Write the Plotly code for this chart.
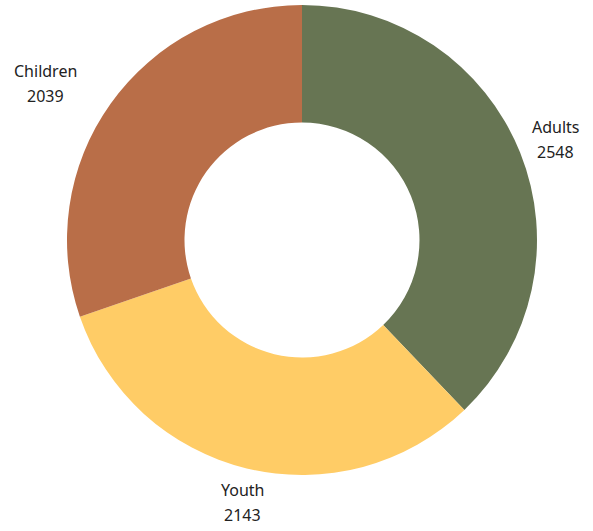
import math
import plotly.graph_objects as go

labels = ["Adults", "Youth", "Children"]
values = [2548, 2143, 2039]
colors = ["#677553", "#FFCC66", "#B96E48"]

W, H = 593, 531
ML, MR, MT, MB = 11, 0, 5, 56
CX, CY, R = 302, 240, 235
LABEL_RX0, LABEL_RX_PER_CHAR, LABEL_RY = 149, 20.7, 270
LINE_GAP = 12.5

fig = go.Figure(go.Pie(
    labels=labels, values=values, hole=0.5, sort=False, direction="clockwise",
    rotation=0, marker=dict(colors=colors, line=dict(width=0)),
    textinfo="none", hoverinfo="label+value", showlegend=False,
    domain=dict(x=[0, 1], y=[0, 1]),
))

total = sum(values)
cum = 0
pw, ph = W - ML - MR, H - MT - MB
font = dict(size=16, color="#222222", family="Noto Sans")
for lab, v in zip(labels, values):
    mid = (cum + v / 2) / total * 2 * math.pi
    cum += v
    s, c = math.sin(mid), math.cos(mid)
    px = CX + (LABEL_RX0 + LABEL_RX_PER_CHAR * len(lab)) * s
    py = CY - LABEL_RY * c
    for txt, dy in ((lab, -LINE_GAP), (str(v), LINE_GAP)):
        fig.add_annotation(
            x=(px - ML) / pw, y=(H - MB - (py + dy)) / ph, xref="paper", yref="paper",
            text=txt, showarrow=False, xanchor="center", yanchor="middle",
            align="center", font=font,
        )

fig.update_layout(
    width=W, height=H, margin=dict(l=ML, r=MR, t=MT, b=MB),
    paper_bgcolor="white", plot_bgcolor="white",
)
fig.write_html("out.html", config={"displayModeBar": False},
               post_script="document.body.style.margin='0';")
